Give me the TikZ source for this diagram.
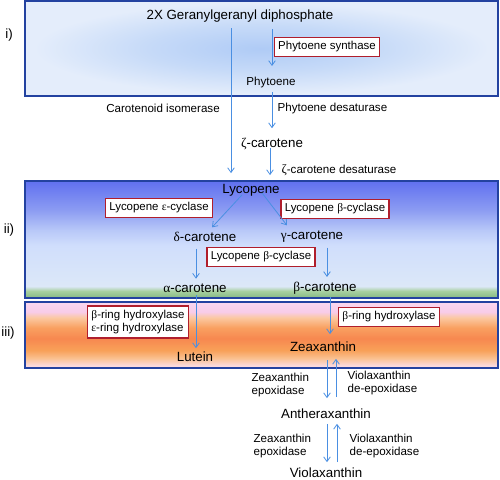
\documentclass[tikz,border=0pt]{standalone}
\usepackage{fontspec}
\setmainfont{Liberation Sans}
\newfontfamily\grk{Liberation Serif}
\usetikzlibrary{calc,arrows.meta}

\definecolor{frameblue}{HTML}{2342A0}
\definecolor{boxred}{HTML}{B01E2C}
\definecolor{arrowblue}{HTML}{4A8FE2}
% band colours
\definecolor{pA}{HTML}{AFCBF6}
\definecolor{pB}{HTML}{C6DAF8}
\definecolor{pC}{HTML}{E4EDFB}
\definecolor{lA}{HTML}{86B884}
\definecolor{lB}{HTML}{A8D0A0}
\definecolor{lC}{HTML}{DCE8F8}
\definecolor{lD}{HTML}{D0DEFC}
\definecolor{lE}{HTML}{B8C8F8}
\definecolor{lF}{HTML}{8C9CF2}
\definecolor{lG}{HTML}{6070F0}
\definecolor{xA}{HTML}{F9DCEC}
\definecolor{xB}{HTML}{FAD8D8}
\definecolor{xC}{HTML}{FAC090}
\definecolor{xD}{HTML}{F8A058}
\definecolor{xE}{HTML}{F78850}
\definecolor{xF}{HTML}{F9A060}
\definecolor{xG}{HTML}{FBC8A0}
\definecolor{xH}{HTML}{F8CCE8}
\definecolor{xI}{HTML}{FAD8F0}

% background bands
\pgfdeclareradialshading{plastid}{\pgfpoint{0bp}{0bp}}{color(0bp)=(pA); color(12bp)=(pB); color(24bp)=(pC); color(50bp)=(pC)}
\pgfdeclareverticalshading{lycband}{100bp}{color(0bp)=(lA); color(25bp)=(lA); color(28bp)=(lB); color(30bp)=(lC); color(47.5bp)=(lD); color(54bp)=(lE); color(62.5bp)=(lF); color(75bp)=(lG); color(100bp)=(lG)}
\pgfdeclareverticalshading{xanband}{100bp}{color(0bp)=(xA); color(25bp)=(xA); color(27.25bp)=(xB); color(32.5bp)=(xC); color(38.5bp)=(xD); color(47.5bp)=(xE); color(55.5bp)=(xF); color(63bp)=(xG); color(67.5bp)=(xH); color(75bp)=(xI); color(100bp)=(xI)}

\tikzset{
  frame/.style={draw=frameblue, line width=1.5pt},
  compound/.style={font=\fontsize{10}{12}\selectfont, inner sep=2pt},
  enzyme/.style={font=\fontsize{8.7}{10.4}\selectfont, inner sep=1pt},
  redbox/.style={draw=boxred, line width=1.2pt, fill=white, inner xsep=2.8pt, inner ysep=3pt,
    font=\fontsize{8.6}{9.8}\selectfont},
  arr/.style={-{Straight Barb[length=3.5pt,width=5pt]}, draw=arrowblue, line width=0.6pt},
  stage/.style={font=\fontsize{10}{12}\selectfont}
}

\begin{document}
\begin{tikzpicture}[x=0.75pt, y=-0.75pt]
    \useasboundingbox (0,0) rectangle (500,479);

    % Bands
    \shade[shading=plastid] (25,1) rectangle (498,96);
    \draw[frame] (25,1) rectangle (498,96);
    \shade[shading=lycband] (25,181) rectangle (498,298);
    \draw[frame] (25,181) rectangle (498,298);
    \shade[shading=xanband] (25,302) rectangle (498,368);
    \draw[frame] (25,302) rectangle (498,368);

    % Stage labels
    \node[stage] (si) at (9,35) {i)};
    \node[stage] (sii) at (9,230) {ii)};
    \node[stage] (siii) at (8,333) {iii)};

    % Compounds
    \node[compound] (ggpp) at (240,16) {2X Geranylgeranyl diphosphate};
    \node[enzyme] (phy) at (271,82) {Phytoene};
    \node[compound] (zcar) at (272,144) {{\grk ζ}-carotene};
    \node[compound] (lyc) at (251,190) {Lycopene};
    \node[compound] (dcar) at (205,237) {{\grk δ}-carotene};
    \node[compound] (gcar) at (312,237) {{\grk γ}-carotene};
    \node[compound] (acar) at (195,288) {{\grk α}-carotene};
    \node[compound] (bcar) at (325,288) {{\grk β}-carotene};
    \node[compound] (lut) at (195,357) {Lutein};
    \node[compound] (zea) at (323,347) {Zeaxanthin};
    \node[compound] (anth) at (326,414) {Antheraxanthin};
    \node[compound] (vio) at (326,473) {Violaxanthin};

    % Enzymes in boxes
    \node[redbox] (psy) at (327,47) {Phytoene synthase};
    \node[redbox] (lcye) at (159,208) {Lycopene {\grk ε}-cyclase};
    \node[redbox] (lcyb1) at (335,209) {Lycopene {\grk β}-cyclase};
    \node[redbox] (lcyb2) at (261,257) {Lycopene {\grk β}-cyclase};
    \node[redbox, align=left] (hyd2) at (138,322) {{\grk β}-ring hydroxylase\\{\grk ε}-ring hydroxylase};
    \node[redbox] (hyd1) at (389,317) {{\grk β}-ring hydroxylase};

    % Enzymes as plain labels
    \node[enzyme] (crtiso) at (163,108) {Carotenoid isomerase};
    \node[enzyme, anchor=west] (pds) at (276,108) {Phytoene desaturase};
    \node[enzyme, anchor=west] (zds) at (280,170) {{\grk\fontsize{9.5}{11}\selectfont ζ}-carotene desaturase};
    \node[enzyme, anchor=west, align=left] (zep1) at (250,385) {Zeaxanthin\\epoxidase};
    \node[enzyme, anchor=west, align=left] (vde1) at (346,383) {Violaxanthin\\de-epoxidase};
    \node[enzyme, anchor=west, align=left] (zep2) at (252,446) {Zeaxanthin\\epoxidase};
    \node[enzyme, anchor=west, align=left] (vde2) at (348,446) {Violaxanthin\\de-epoxidase};

    % Arrows
    \coordinate (isox) at (231,0);
    \draw[arr] ($(ggpp.south -| phy)+(1,4)$) -- ($(phy.north)+(1,-9)$);
    \draw[arr] ($(ggpp.south -| isox)+(0,3)$) -- ($(lyc.north -| isox)+(0,-8)$);
    \draw[arr] ($(phy.south)+(1,3)$) -- ($(zcar.north -| phy)+(1,-7)$);
    \draw[arr] ($(zcar.south -| phy)+(-1,-5)$) -- ($(lyc.north -| phy)+(-1,-6)$);
    \draw[arr] ($(lyc.south)+(-9,-4)$) -- ($(dcar.north)+(7,-2)$);
    \draw[arr] ($(lyc.south)+(11,-6)$) -- ($(gcar.north west)+(9,-3)$);
    \draw[arr] ($(dcar.south -| acar)+(1,4)$) -- ($(acar.north)+(1,-2)$);
    \draw[arr] ($(gcar.south -| bcar)+(2,2)$) -- ($(bcar.north)+(2,-2)$);
    \draw[arr] ($(acar.south)+(1,0)$) -- ($(lut.north)+(1,-1)$);
    \draw[arr] ($(bcar.south)+(5,0)$) -- ($(zea.north -| bcar)+(5,-5)$);
    \draw[arr] ($(zea.south -| anth)+(1,5)$) -- ($(anth.north)+(1,-8)$);
    \draw[arr] ($(anth.north)+(10,-9)$) -- ($(zea.south -| anth)+(10,4)$);
    \draw[arr] ($(anth.south)+(1,2)$) -- ($(vio.north)+(1,-3)$);
    \draw[arr] ($(vio.north)+(11,-3)$) -- ($(anth.south)+(11,2)$);

\end{tikzpicture}
\end{document}
